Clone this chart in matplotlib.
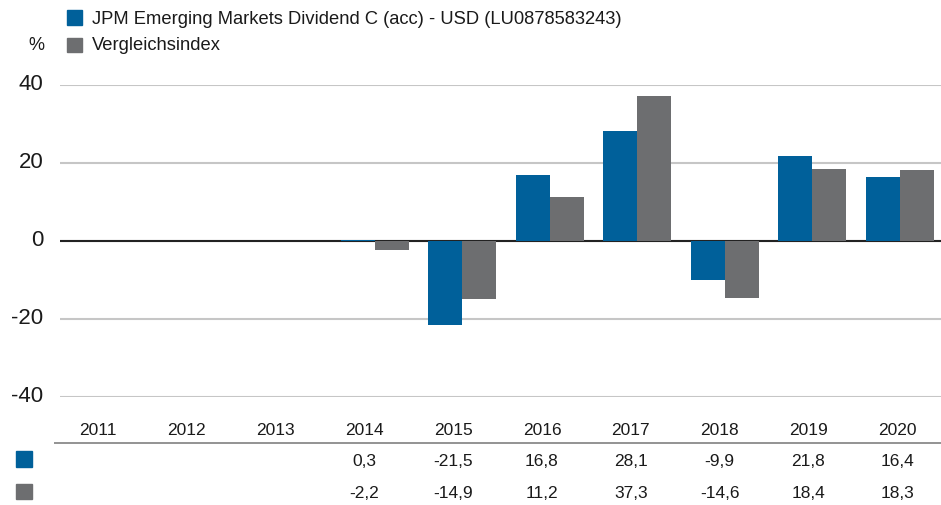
import matplotlib
matplotlib.use("Agg")
import matplotlib.pyplot as plt
from matplotlib.patches import Rectangle
from matplotlib.transforms import ScaledTranslation
import numpy as np

# Daten
YEARS = ["2011", "2012", "2013", "2014", "2015", "2016", "2017", "2018", "2019", "2020"]
FUND = [None, None, None, 0.3, -21.5, 16.8, 28.1, -9.9, 21.8, 16.4]
INDEX = [None, None, None, -2.2, -14.9, 11.2, 37.3, -14.6, 18.4, 18.3]
FUND_NAME = "JPM Emerging Markets Dividend C (acc) - USD (LU0878583243)"
INDEX_NAME = "Vergleichsindex"
Y_TICKS = [-40, -20, 0, 20, 40]

BLUE = "#00609a"
GREY = "#6d6e70"
W, H = 941, 506
FONT = ["Liberation Sans", "DejaVu Sans"]
plt.rcParams["font.family"] = FONT
plt.rcParams["axes.unicode_minus"] = False


def fx(px):
    return px / W


def fy(py):
    return 1 - py / H


def fmt(v):
    return "" if v is None else ("%.1f" % v).replace(".", ",")


fig = plt.figure(figsize=(W / 100, H / 100), dpi=100)

# Balkendiagramm
ax = fig.add_axes([fx(60), fy(398), (941 - 60) / W, (398 - 86) / H])
x = np.arange(len(YEARS))
bw = 0.389
fund = np.array([np.nan if v is None else v for v in FUND])
idx = np.array([np.nan if v is None else v for v in INDEX])
ax.bar(x - bw / 2, fund, width=bw, color=BLUE, zorder=3)
ax.bar(x + bw / 2, idx, width=bw, color=GREY, zorder=3)
ax.set_xlim(-0.6, 9.47)
ax.set_ylim(-40, 40)
ax.set_yticks(Y_TICKS)
ax.set_xticks([])
ax.grid(axis="y", color="#c6c6c6", linewidth=1.5, zorder=0)
ax.axhline(0, color="#222222", linewidth=1.5, zorder=2.5)
for s in ax.spines.values():
    s.set_visible(False)
ax.tick_params(axis="y", length=0, pad=12, labelsize=16, labelcolor="#1a1a1a")
for lab in ax.get_yticklabels():
    lab.set_transform(lab.get_transform() + ScaledTranslation(0, 4 / 100, fig.dpi_scale_trans))

# Legende
fig.patches.append(Rectangle((fx(67), fy(26)), 15 / W, 15 / H, color=BLUE, transform=fig.transFigure))
fig.patches.append(Rectangle((fx(67), fy(53)), 15 / W, 14 / H, color=GREY, transform=fig.transFigure))
fig.text(fx(92), fy(19), FUND_NAME, fontsize=13.2, va="center", ha="left", color="#1a1a1a")
fig.text(fx(92), fy(46), INDEX_NAME, fontsize=13.2, va="center", ha="left", color="#1a1a1a")
fig.text(fx(36), fy(46), "%", fontsize=13, va="center", ha="center", color="#1a1a1a")

# Tabelle
tb = fig.add_axes([fx(53.6), 0, 888 / W, (506 - 410) / H])
tb.set_xlim(-0.5, 9.5)
tb.set_ylim(506, 410)
tb.axis("off")
tb.axhline(444, color="#8a8a8a", linewidth=1.3)
for i, yr in enumerate(YEARS):
    tb.text(i, 431, yr, ha="center", va="center", fontsize=12.5, color="#1a1a1a")
    tb.text(i, 462, fmt(FUND[i]), ha="center", va="center", fontsize=12.5, color="#1a1a1a")
    tb.text(i, 494, fmt(INDEX[i]), ha="center", va="center", fontsize=12.5, color="#1a1a1a")
fig.patches.append(Rectangle((fx(16), fy(468)), 16 / W, 16 / H, color=BLUE, transform=fig.transFigure))
fig.patches.append(Rectangle((fx(16), fy(500)), 16 / W, 15 / H, color=GREY, transform=fig.transFigure))

fig.savefig("out.png", dpi=100)
